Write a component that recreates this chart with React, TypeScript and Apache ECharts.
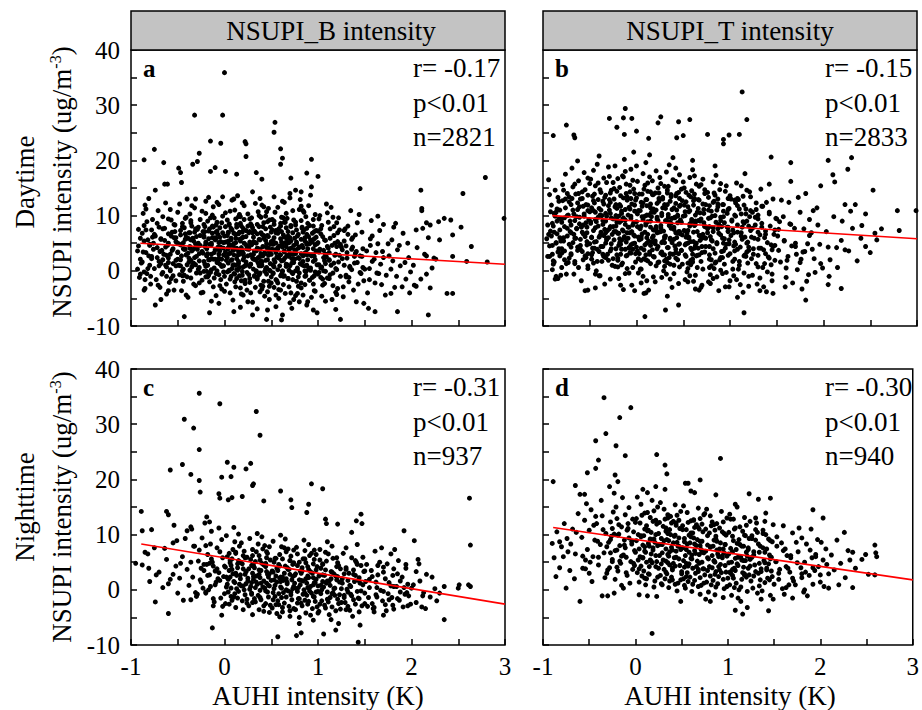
import React, { useEffect, useRef } from "react";
import * as echarts from "echarts";

const FONT = "'Liberation Serif', 'Times New Roman', serif";

// ---- Data (x = AUHI intensity K, y = NSUPI intensity), flat [x, y, x, y, ...] ----
const aOutliers = [0.0,35.9, -0.32,28.2, -0.02,28.2, 0.54,26.9, 0.53,25.1, 0.6,22.1, 0.62,20.4, 0.6,19.3, -0.15,23.5, -0.04,23.1, 0.22,23.4, 0.23,23.0, 0.23,20.7, -0.75,22.0, -0.86,20.1, -0.65,19.6, -0.27,21.3, -0.29,19.8, -0.34,19.3, 0.93,20.2, 2.79,16.9, 2.55,14.0, 2.1,14.6, 1.45,14.9, 2.11,11.3, 2.11,10.9, 2.99,9.5, 2.35,9.5, 2.42,9.2, 2.29,8.9, 2.16,8.7, 2.2,8.3, 2.53,7.9, 2.05,7.4, 1.83,8.6, 1.64,9.9, 2.3,5.6, 2.44,6.5, 2.64,4.4, 2.44,2.6, 2.59,1.7, 2.81,1.6, 2.16,2.7, 2.24,2.3, 2.16,-0.6, 2.38,-4.1, 2.44,-4.1, 2.18,-8.0, 1.85,-7.4, 1.61,-7.4, 1.54,-6.8, 1.49,-5.9, 1.98,-4.0, 2.03,-2.6, 1.78,-4.1, 1.24,-8.8, 1.19,-7.0, 0.99,-7.6, 0.95,-7.1, 0.8,-5.6, 0.72,-6.8, 0.61,-8.9, 0.62,-8.0, 0.45,-8.8, 0.46,-7.1, 0.3,-8.0, 0.17,-6.6, 0.1,-7.4, -0.16,-7.6, -0.06,-5.9, -0.43,-8.3, -0.74,-6.2, -0.68,-5.2, -0.86,-3.5, -0.54,-3.5, -0.41,-4.4, -0.81,13.1, -0.74,14.6, -0.85,11.9, -0.61,15.7, -0.64,15.7, -0.47,17.8, -0.46,16.0, -0.49,18.6, -0.4,13.0, -0.15,18.0, -0.1,18.7, 0.01,18.0, 0.13,17.5, 0.34,17.8, 0.4,16.6, 0.71,16.8, 0.88,17.7, 1.0,17.1, 0.93,15.2, 0.76,14.6, 0.82,14.3];
const aCore = [
-0.92,4.5, -0.9,2.1, -0.88,6.8, -0.93,0.3, -0.86,8.2, -0.84,3.3, -0.91,-1.2, -0.82,5.6, -0.8,1.0, -0.87,10.4, -0.78,7.4, -0.79,-2.4, -0.76,3.9, -0.83,-0.5, -0.9,5.9, -0.77,9.3, -0.81,2.7, -0.85,-3.2, -0.92,7.5, -0.75,0.4, -0.8,4.8, -0.88,1.6, -0.77,6.1, -0.84,11.2, -0.93,3.6, -0.79,-1.0, -0.76,5.0, -0.86,-0.2, -0.83,8.9, -0.78,2.2,
-0.72,4.2, -0.7,7.9, -0.68,1.3, -0.66,9.8, -0.73,-1.6, -0.64,5.5, -0.62,2.8, -0.69,-3.0, -0.6,6.7, -0.58,0.2, -0.71,10.9, -0.56,3.7, -0.54,8.4, -0.67,-0.6, -0.52,1.9, -0.63,12.3, -0.59,-2.1, -0.74,6.3, -0.51,5.1, -0.65,3.0, -0.57,9.2, -0.7,0.9, -0.55,-0.9, -0.61,4.6, -0.53,7.1, -0.68,5.8, -0.62,-4.2, -0.58,11.1, -0.72,2.4, -0.5,3.4, -0.66,7.6, -0.6,1.5, -0.54,6.0, -0.69,3.5, -0.52,-1.8,
-0.49,4.9, -0.47,2.0, -0.45,8.6, -0.43,-0.8, -0.41,6.1, -0.39,3.2, -0.37,10.3, -0.35,0.7, -0.33,5.4, -0.31,-2.7, -0.29,7.5, -0.27,1.8, -0.48,12.1, -0.46,-3.6, -0.44,4.0, -0.42,9.5, -0.4,1.1, -0.38,6.9, -0.36,-1.3, -0.34,3.8, -0.32,11.4, -0.3,2.6, -0.28,5.0, -0.26,-0.4, -0.47,6.5, -0.45,0.0, -0.43,7.8, -0.41,2.9, -0.39,-4.8, -0.37,4.4, -0.35,8.1, -0.33,1.4, -0.31,13.0, -0.29,3.9, -0.27,-2.2, -0.49,1.0, -0.42,5.7, -0.36,9.1, -0.3,6.2, -0.26,4.6, -0.44,-1.9, -0.38,2.3, -0.32,7.0, -0.28,0.3, -0.34,5.9,
-0.24,3.5, -0.22,6.3, -0.2,0.8, -0.18,9.0, -0.16,-2.0, -0.14,4.7, -0.12,11.6, -0.1,2.1, -0.08,7.2, -0.06,-0.7, -0.04,5.3, -0.02,13.4, -0.23,-3.9, -0.21,8.0, -0.19,2.7, -0.17,5.8, -0.15,-0.3, -0.13,10.1, -0.11,3.3, -0.09,-4.5, -0.07,6.6, -0.05,1.2, -0.03,8.7, -0.01,4.1, -0.24,10.8, -0.22,1.7, -0.2,4.9, -0.18,-1.1, -0.16,7.6, -0.14,2.2, -0.12,-2.9, -0.1,5.6, -0.08,12.4, -0.06,3.0, -0.04,-1.6, -0.02,6.9, -0.23,7.1, -0.19,-0.1, -0.15,9.6, -0.11,0.5, -0.07,4.3, -0.03,-3.3, -0.21,4.4, -0.17,2.0, -0.13,6.0, -0.09,8.3, -0.05,3.6, -0.01,0.9, -0.2,12.6, -0.14,-5.5, -0.08,1.5, -0.02,9.9, -0.12,7.9, -0.06,5.1, -0.18,3.1,
0.01,5.2, 0.03,2.4, 0.05,8.5, 0.07,-1.0, 0.09,4.6, 0.11,11.0, 0.13,0.2, 0.15,6.7, 0.17,-3.1, 0.19,3.7, 0.21,9.3, 0.23,1.6, 0.02,-2.4, 0.04,7.0, 0.06,3.2, 0.08,12.8, 0.1,-0.5, 0.12,5.9, 0.14,2.8, 0.16,10.2, 0.18,-4.2, 0.2,6.1, 0.22,0.9, 0.24,4.0, 0.01,10.5, 0.03,-0.2, 0.05,4.8, 0.07,7.7, 0.09,1.0, 0.11,-2.0, 0.13,8.4, 0.15,3.5, 0.17,5.4, 0.19,-0.8, 0.21,2.5, 0.23,7.3, 0.02,1.9, 0.06,-4.0, 0.1,6.8, 0.14,13.6, 0.18,8.1, 0.22,-1.7, 0.04,4.2, 0.08,2.0, 0.12,9.4, 0.16,0.6, 0.2,3.0, 0.24,-3.5, 0.03,6.4, 0.09,-5.3, 0.15,1.3, 0.21,11.8, 0.07,5.6, 0.13,-1.4, 0.19,7.0, 0.11,3.9, 0.05,0.0, 0.17,9.8, 0.23,4.7, 0.1,2.9,
0.26,4.4, 0.28,1.2, 0.3,7.8, 0.32,-0.9, 0.34,5.0, 0.36,10.7, 0.38,2.6, 0.4,-3.3, 0.42,6.4, 0.44,0.4, 0.46,8.9, 0.48,3.4, 0.27,-2.1, 0.29,9.6, 0.31,3.0, 0.33,12.2, 0.35,-1.5, 0.37,5.7, 0.39,1.8, 0.41,8.0, 0.43,-4.6, 0.45,4.2, 0.47,11.3, 0.49,0.0, 0.26,6.9, 0.28,-4.0, 0.3,2.3, 0.32,7.1, 0.34,-0.2, 0.36,4.0, 0.38,13.1, 0.4,1.0, 0.42,-1.9, 0.44,5.5, 0.46,2.0, 0.48,9.2, 0.27,0.8, 0.31,5.3, 0.35,8.4, 0.39,-2.6, 0.43,3.1, 0.47,6.2, 0.29,4.9, 0.33,-3.0, 0.37,10.0, 0.41,2.7, 0.45,-0.6, 0.49,4.8, 0.3,-5.7, 0.36,1.4, 0.42,11.6, 0.48,-2.8, 0.34,3.6, 0.4,6.6, 0.46,-3.8, 0.28,8.5, 0.38,-0.4, 0.44,9.9, 0.32,2.1, 0.26,-0.7,
0.51,3.9, 0.53,0.7, 0.55,6.9, 0.57,-2.2, 0.59,4.5, 0.61,9.7, 0.63,1.9, 0.65,-4.1, 0.67,5.8, 0.69,0.1, 0.71,8.2, 0.73,3.0, 0.52,-0.5, 0.54,10.6, 0.56,2.5, 0.58,7.6, 0.6,-3.5, 0.62,4.9, 0.64,12.4, 0.66,1.2, 0.68,-1.4, 0.7,6.0, 0.72,2.2, 0.74,-5.2, 0.51,7.4, 0.53,-3.0, 0.55,3.3, 0.57,11.5, 0.59,0.9, 0.61,5.2, 0.63,-1.0, 0.65,8.8, 0.67,2.8, 0.69,-2.9, 0.71,4.1, 0.73,10.9, 0.52,5.5, 0.56,-1.8, 0.6,8.6, 0.64,3.6, 0.68,7.1, 0.72,-0.3, 0.54,1.6, 0.58,-5.0, 0.62,0.0, 0.66,4.4, 0.7,13.2, 0.74,1.5, 0.53,9.0, 0.57,4.2, 0.61,-0.6, 0.65,2.4, 0.69,5.1, 0.73,-1.6, 0.55,-4.4, 0.63,6.5, 0.71,-4.0, 0.59,2.9, 0.67,9.5, 0.75,3.8,
0.76,3.1, 0.78,6.3, 0.8,-0.4, 0.82,9.1, 0.84,1.7, 0.86,-2.5, 0.88,4.8, 0.9,11.8, 0.92,0.5, 0.94,6.8, 0.96,-3.6, 0.98,3.5, 0.77,-1.9, 0.79,2.4, 0.81,12.9, 0.83,4.6, 0.85,7.4, 0.87,-0.9, 0.89,2.0, 0.91,8.2, 0.93,-4.8, 0.95,4.0, 0.97,10.2, 0.99,1.1, 0.76,8.8, 0.8,4.3, 0.84,-4.4, 0.88,0.9, 0.92,5.6, 0.96,2.6, 0.78,0.2, 0.82,-3.1, 0.86,5.4, 0.9,3.0, 0.94,-1.2, 0.98,7.3, 0.77,5.2, 0.81,1.3, 0.85,10.6, 0.89,-5.6, 0.93,2.9, 0.97,-0.2, 0.79,-2.8, 0.83,7.7, 0.87,3.3, 0.91,-1.7, 0.95,9.3, 0.99,4.9, 0.8,11.1, 0.86,0.0, 0.92,13.7, 0.96,5.8, 0.84,2.7, 0.88,6.6, 0.76,-4.5,
1.01,3.4, 1.03,0.5, 1.05,6.2, 1.07,-2.3, 1.09,2.5, 1.11,8.8, 1.13,-0.7, 1.15,4.6, 1.17,1.4, 1.19,-3.9, 1.21,6.9, 1.23,2.8, 1.02,10.0, 1.04,-4.6, 1.06,3.7, 1.08,5.5, 1.1,-1.3, 1.12,2.0, 1.14,11.5, 1.16,-2.7, 1.18,5.0, 1.2,0.2, 1.22,9.6, 1.24,-1.0, 1.03,7.6, 1.07,1.8, 1.11,4.1, 1.15,-5.2, 1.19,3.0, 1.23,7.4, 1.05,-1.5, 1.09,12.1, 1.13,5.9, 1.17,8.0, 1.21,-3.2, 1.01,-0.3, 1.25,4.3, 1.14,1.0, 1.06,0.0, 1.2,4.4,
1.26,2.2, 1.28,5.4, 1.3,-1.1, 1.32,8.1, 1.34,0.8, 1.36,3.9, 1.38,-3.5, 1.4,6.5, 1.42,1.5, 1.44,10.2, 1.46,-0.5, 1.48,4.0, 1.27,-4.7, 1.31,3.3, 1.35,10.9, 1.39,2.6, 1.43,-2.4, 1.47,7.0, 1.29,7.6, 1.33,-2.0, 1.37,6.0, 1.41,-5.6, 1.45,2.7, 1.49,-1.8, 1.3,4.5, 1.36,0.2, 1.42,8.7, 1.28,1.0, 1.4,3.2, 1.48,0.6,
1.52,3.6, 1.55,0.4, 1.58,6.3, 1.61,-2.2, 1.64,4.9, 1.67,1.2, 1.7,8.4, 1.73,-0.8, 1.76,2.7, 1.79,5.6, 1.82,-3.0, 1.85,3.8, 1.88,0.9, 1.91,6.8, 1.94,-1.5, 1.97,2.4, 1.53,-4.0, 1.57,9.1, 1.6,2.1, 1.63,-0.4, 1.66,7.3, 1.69,3.5, 1.72,-4.4, 1.75,4.9, 1.78,0.3, 1.81,7.9, 1.84,-1.0, 1.87,4.6, 1.9,-2.9, 1.93,1.5, 1.96,5.0, 1.99,-0.2, 1.56,5.8, 1.68,-2.5, 1.8,1.8,
2.02,1.0, 2.06,4.2, 2.1,-1.5, 2.14,3.0, 2.18,6.0, 2.22,0.5, 2.05,-2.8, 2.26,2.1, 2.12,7.7, 2.2,-3.1];
const aDense = [
-0.71,-2.6, -0.33,-2.4, -0.05,-2.7, 0.22,-2.3, 0.41,-2.8, 0.63,-2.5, 0.82,-2.2, 1.05,-2.6, 1.27,-2.9, 0.12,-2.9, 0.95,-2.4, 0.5,-2.2,
-0.85,-1.6, -0.57,-1.4, -0.24,-1.7, -0.11,-1.3, 0.06,-1.5, 0.18,-1.8, 0.35,-1.2, 0.55,-1.6, 0.68,-1.4, 0.79,-1.1, 0.91,-1.7, 1.12,-1.4, 1.33,-1.2, 1.55,-1.6, -0.4,-1.1, 0.27,-1.4, 0.47,-1.9,
-0.9,-0.6, -0.66,-0.3, -0.48,-0.7, -0.3,-0.4, -0.17,-0.8, -0.01,-0.2, 0.11,-0.6, 0.24,-0.3, 0.37,-0.7, 0.52,-0.4, 0.6,-0.9, 0.73,-0.5, 0.87,-0.2, 1.0,-0.6, 1.16,-0.4, 1.3,-0.8, 1.45,-0.3, 1.65,-0.5, 0.43,-0.1, -0.09,-0.5, 0.96,-0.9,
-0.82,0.4, -0.62,0.7, -0.44,0.3, -0.27,0.6, -0.14,0.2, -0.03,0.8, 0.08,0.4, 0.2,0.7, 0.31,0.3, 0.45,0.6, 0.57,0.2, 0.66,0.8, 0.78,0.5, 0.9,0.3, 1.04,0.7, 1.19,0.4, 1.34,0.6, 1.5,0.3, 0.14,0.1, 0.39,0.9, 0.85,0.9, -0.52,0.9,
-0.89,1.4, -0.7,1.7, -0.55,1.3, -0.38,1.6, -0.21,1.2, -0.07,1.8, 0.04,1.4, 0.15,1.7, 0.28,1.2, 0.4,1.6, 0.49,1.3, 0.61,1.8, 0.72,1.4, 0.83,1.1, 0.95,1.7, 1.08,1.3, 1.22,1.6, 1.39,1.4, 1.58,1.7, 0.34,1.9, -0.31,1.1, 0.1,1.1, 0.67,1.1,
-0.78,2.6, -0.6,2.3, -0.46,2.7, -0.32,2.4, -0.19,2.8, -0.06,2.3, 0.02,2.6, 0.13,2.2, 0.25,2.7, 0.36,2.4, 0.47,2.8, 0.58,2.3, 0.69,2.6, 0.8,2.2, 0.93,2.7, 1.06,2.4, 1.18,2.8, 1.31,2.3, 1.47,2.6, 1.7,2.4, -0.12,2.1, 0.53,2.0, 0.88,2.9,
-0.87,3.4, -0.67,3.7, -0.5,3.3, -0.35,3.6, -0.23,3.2, -0.1,3.8, 0.01,3.4, 0.09,3.7, 0.2,3.2, 0.32,3.6, 0.43,3.3, 0.54,3.8, 0.64,3.4, 0.76,3.7, 0.86,3.2, 0.99,3.6, 1.12,3.3, 1.26,3.8, 1.41,3.5, 1.62,3.3, 0.26,3.9, 0.7,3.1, -0.42,3.9,
-0.8,4.6, -0.63,4.3, -0.47,4.7, -0.29,4.4, -0.16,4.8, -0.04,4.3, 0.07,4.6, 0.18,4.2, 0.29,4.7, 0.41,4.4, 0.52,4.8, 0.62,4.3, 0.74,4.6, 0.84,4.2, 0.97,4.7, 1.1,4.4, 1.24,4.8, 1.37,4.3, 1.56,4.6, 0.35,4.1, -0.37,4.1, 0.91,4.9,
-0.86,5.4, -0.68,5.7, -0.52,5.3, -0.36,5.6, -0.2,5.2, -0.09,5.8, 0.04,5.4, 0.16,5.7, 0.27,5.2, 0.38,5.6, 0.5,5.3, 0.6,5.8, 0.71,5.4, 0.82,5.7, 0.94,5.2, 1.07,5.6, 1.21,5.3, 1.36,5.7, 0.12,5.1, 0.65,5.1,
-0.75,6.6, -0.57,6.3, -0.42,6.7, -0.26,6.4, -0.13,6.8, 0.0,6.3, 0.12,6.6, 0.23,6.2, 0.35,6.7, 0.46,6.4, 0.57,6.8, 0.68,6.3, 0.79,6.6, 0.9,6.2, 1.03,6.7, 1.17,6.4, 1.32,6.6, 0.3,6.9, -0.05,6.1,
-0.84,7.4, -0.64,7.7, -0.47,7.3, -0.31,7.6, -0.17,7.2, -0.05,7.8, 0.08,7.4, 0.2,7.7, 0.32,7.2, 0.44,7.6, 0.55,7.3, 0.66,7.8, 0.77,7.4, 0.88,7.7, 1.0,7.2, 1.13,7.6, 1.28,7.3,
-0.72,8.6, -0.53,8.3, -0.36,8.7, -0.22,8.4, -0.08,8.8, 0.05,8.3, 0.17,8.6, 0.29,8.2, 0.42,8.7, 0.53,8.4, 0.64,8.8, 0.76,8.3, 0.89,8.6, 1.04,8.2, 1.2,8.7,
-0.6,9.4, -0.41,9.7, -0.26,9.3, -0.11,9.6, 0.03,9.2, 0.15,9.8, 0.27,9.4, 0.39,9.7, 0.51,9.3, 0.63,9.6, 0.74,9.2, 0.87,9.8, 1.01,9.4, 1.16,9.7,
-0.5,10.6, -0.2,10.4, 0.06,10.8, 0.25,10.3, 0.45,10.7, 0.66,10.4, 0.84,10.9, 1.1,10.5,
-0.35,11.8, -0.06,12.0, 0.19,12.3, 0.4,11.9, 0.62,12.6, 0.82,11.7, 0.53,13.4, 0.1,13.0, -0.17,13.3, 0.3,14.3, 0.7,14.0,
-0.6,-3.6, -0.25,-4.0, 0.0,-3.7, 0.2,-4.4, 0.38,-3.8, 0.58,-3.4, 0.78,-4.1, 0.97,-3.7, 1.2,-4.3, 0.48,-5.2, 0.7,-5.8, 0.25,-5.6, 0.88,-6.2, 1.08,-5.5, 0.55,-6.5, 0.35,-6.9];
const aDense2 = [
-0.62,-1.0, -0.45,-0.9, -0.2,-1.1, 0.0,-1.0, 0.16,-0.9, 0.32,-1.0, 0.5,-1.1, 0.64,-0.9, 0.86,-1.0, 1.03,-1.2,
-0.58,0.0, -0.37,0.1, -0.22,-0.1, -0.08,0.0, 0.05,0.1, 0.19,-0.1, 0.34,0.0, 0.48,0.1, 0.62,-0.1, 0.76,0.0, 0.92,0.1, 1.08,-0.1,
-0.63,1.0, -0.47,0.9, -0.34,1.1, -0.18,1.0, -0.02,0.9, 0.12,1.0, 0.23,1.1, 0.37,0.9, 0.52,1.0, 0.7,0.9, 0.88,1.0, 1.01,1.1,
-0.66,2.0, -0.5,2.1, -0.36,1.9, -0.16,2.0, -0.03,2.1, 0.07,1.9, 0.2,2.0, 0.31,2.1, 0.44,1.9, 0.63,2.0, 0.75,2.1, 0.97,2.0, 1.12,1.9,
-0.58,3.0, -0.41,2.9, -0.27,3.1, -0.14,3.0, -0.01,2.9, 0.05,3.1, 0.16,3.0, 0.28,2.9, 0.39,3.1, 0.5,3.0, 0.6,2.9, 0.74,3.0, 0.82,3.1, 0.95,2.9, 1.08,3.0,
-0.55,4.0, -0.43,3.9, -0.32,4.1, -0.19,4.0, -0.07,3.9, 0.04,4.0, 0.13,4.1, 0.24,4.0, 0.38,3.9, 0.47,4.1, 0.57,4.0, 0.69,3.9, 0.79,4.1, 0.89,4.0, 1.02,3.9,
-0.6,5.0, -0.44,5.1, -0.31,4.9, -0.14,5.0, -0.01,5.1, 0.1,4.9, 0.21,5.0, 0.33,5.1, 0.45,4.9, 0.55,5.0, 0.67,5.1, 0.77,4.9, 0.88,5.0, 1.0,5.1,
-0.52,6.0, -0.39,5.9, -0.22,6.1, -0.1,6.0, 0.07,5.9, 0.19,6.0, 0.31,6.1, 0.42,5.9, 0.53,6.0, 0.64,6.1, 0.75,5.9, 0.86,6.0, 0.98,6.1,
-0.56,7.0, -0.37,6.9, -0.21,7.1, -0.09,7.0, 0.04,6.9, 0.16,7.0, 0.27,7.1, 0.39,6.9, 0.5,7.0, 0.61,7.1, 0.73,6.9, 0.84,7.0, 0.96,7.1,
-0.45,8.0, -0.28,7.9, -0.13,8.1, 0.01,8.0, 0.13,7.9, 0.25,8.1, 0.37,8.0, 0.49,7.9, 0.6,8.1, 0.71,8.0, 0.83,7.9, 0.95,8.1];

const bOutliers = [1.13,32.4, 1.18,27.4, -0.12,29.4, -0.29,27.6, -0.14,27.7, -0.05,27.6, 0.26,27.9, 0.23,26.8, 0.45,27.0, 0.57,27.4, -0.75,26.4, -0.89,24.5, -0.67,24.6, -0.66,24.1, -0.21,26.0, -0.13,24.7, 0.0,25.3, 0.13,24.0, 0.43,24.1, 0.5,24.5, 0.76,24.7, 0.93,23.8, 0.99,24.6, 1.1,24.7, 0.93,23.0, 1.44,20.6, 1.65,19.6, 2.05,20.0, 2.3,20.5, 2.26,18.4, 2.1,17.4, 2.12,16.1, 2.53,14.6, 1.97,15.4, 2.34,12.0, 2.79,10.9, 2.99,10.9, 2.29,10.8, 2.62,7.6, 2.81,7.3, 2.41,8.2, 2.2,9.0, 2.57,5.6, 2.45,4.4, 2.23,3.8, 2.05,4.3, 2.05,-2.5, 2.19,-3.2, 1.81,-5.3, 1.46,-4.1, 1.39,-3.8, 1.32,-3.6, 1.15,-7.6, 1.08,-4.8, 0.99,-2.9, 0.45,-6.2, 0.31,-7.1, 0.09,-8.3, 0.1,-4.0, -0.02,-3.6, -0.17,-2.6, -0.55,-3.6, -0.52,-3.5, 0.67,-3.5, 0.69,-3.0, 0.79,-2.3, -0.87,-1.5, -0.84,-1.4, -0.89,1.2, -0.44,-0.6];
const bCore = [
-0.95,8.3, -0.93,4.5, -0.91,11.9, -0.89,1.8, -0.87,14.6, -0.85,6.7, -0.83,9.4, -0.81,-0.8, -0.79,12.7, -0.77,3.6, -0.94,16.5, -0.92,7.2, -0.9,0.2, -0.88,10.4, -0.86,5.1, -0.84,13.3, -0.82,2.7, -0.8,8.8, -0.78,6.0, -0.76,17.5, -0.95,2.6, -0.91,6.3, -0.87,9.9, -0.83,4.0, -0.79,15.6, -0.75,1.3, -0.93,13.8, -0.89,8.1, -0.85,11.2, -0.81,5.4, -0.77,9.6, -0.96,5.8, -0.8,3.2, -0.86,-1.0, -0.92,10.7,
-0.74,7.7, -0.72,12.5, -0.7,3.1, -0.68,15.2, -0.66,5.9, -0.64,9.8, -0.62,0.6, -0.6,13.0, -0.58,7.0, -0.56,17.8, -0.54,2.4, -0.52,10.9, -0.73,1.5, -0.71,9.0, -0.69,18.6, -0.67,6.6, -0.65,13.9, -0.63,4.3, -0.61,11.6, -0.59,-1.8, -0.57,8.3, -0.55,14.7, -0.53,5.3, -0.51,9.3, -0.74,14.0, -0.7,6.9, -0.66,1.7, -0.62,16.3, -0.58,3.5, -0.54,12.0, -0.72,4.8, -0.68,11.0, -0.64,7.6, -0.6,4.6, -0.56,10.3, -0.52,0.9, -0.73,10.1, -0.67,-0.6, -0.61,8.5, -0.55,6.2, -0.5,15.8, -0.63,19.9, -0.57,2.0, -0.69,13.1, -0.53,7.9,
-0.49,8.6, -0.47,4.1, -0.45,12.3, -0.43,0.0, -0.41,15.9, -0.39,6.4, -0.37,10.0, -0.35,2.6, -0.33,13.7, -0.31,7.3, -0.29,17.1, -0.27,4.9, -0.48,11.4, -0.46,1.4, -0.44,7.8, -0.42,19.3, -0.4,3.5, -0.38,14.2, -0.36,9.1, -0.34,-2.4, -0.32,5.6, -0.3,11.8, -0.28,8.0, -0.26,1.0, -0.49,16.6, -0.45,5.2, -0.41,9.7, -0.37,1.7, -0.33,6.9, -0.29,12.9, -0.25,9.4, -0.47,13.5, -0.43,8.9, -0.39,-0.9, -0.35,16.8, -0.31,3.0, -0.27,14.6, -0.48,2.9, -0.44,10.6, -0.4,6.1, -0.36,4.4, -0.32,9.9, -0.28,-1.5, -0.46,18.2, -0.42,3.9, -0.38,11.0, -0.34,7.5, -0.3,1.9, -0.26,6.6, -0.44,-3.1, -0.36,12.6, -0.28,10.4, -0.4,20.8, -0.32,16.0, -0.48,6.0,
-0.24,7.1, -0.22,12.0, -0.2,2.3, -0.18,15.1, -0.16,5.5, -0.14,9.6, -0.12,-0.5, -0.1,13.4, -0.08,7.9, -0.06,18.4, -0.04,3.9, -0.02,10.8, -0.23,0.8, -0.21,9.2, -0.19,4.6, -0.17,11.7, -0.15,17.2, -0.13,6.2, -0.11,2.7, -0.09,10.1, -0.07,14.3, -0.05,-2.6, -0.03,6.5, -0.01,12.8, -0.24,14.9, -0.2,6.8, -0.16,1.1, -0.12,8.4, -0.08,4.2, -0.04,16.4, -0.22,4.0, -0.18,8.8, -0.14,13.2, -0.1,0.4, -0.06,9.5, -0.02,5.0, -0.23,19.0, -0.19,-1.4, -0.15,7.4, -0.11,15.7, -0.07,3.3, -0.03,8.7, -0.21,11.3, -0.17,3.0, -0.13,20.2, -0.09,5.9, -0.05,12.1, -0.01,1.6, -0.2,16.7, -0.14,-3.4, -0.08,11.5, -0.02,14.0, -0.18,5.8, -0.1,6.9, -0.04,0.6, -0.16,10.4, -0.06,4.7, -0.12,18.0, -0.22,8.1, -0.03,21.5,
0.01,8.0, 0.03,3.1, 0.05,12.4, 0.07,-1.0, 0.09,15.5, 0.11,6.0, 0.13,10.1, 0.15,1.3, 0.17,13.8, 0.19,7.4, 0.21,18.1, 0.23,4.4, 0.02,10.9, 0.04,0.3, 0.06,6.7, 0.08,14.8, 0.1,2.9, 0.12,8.9, 0.14,17.0, 0.16,5.2, 0.18,11.2, 0.2,-2.0, 0.22,9.7, 0.24,13.1, 0.01,16.2, 0.03,5.6, 0.05,1.9, 0.07,9.3, 0.09,4.7, 0.11,12.9, 0.13,-3.5, 0.15,7.9, 0.17,3.8, 0.19,10.6, 0.21,0.9, 0.23,15.0, 0.02,-0.4, 0.06,11.7, 0.1,19.6, 0.14,3.4, 0.18,6.3, 0.22,12.2, 0.04,7.6, 0.08,2.2, 0.12,14.4, 0.16,9.8, 0.2,4.9, 0.24,7.0, 0.03,13.9, 0.07,17.6, 0.11,-1.8, 0.15,11.4, 0.19,2.5, 0.23,9.1, 0.05,6.2, 0.09,9.9, 0.13,5.4, 0.17,16.3, 0.21,7.5, 0.01,3.6, 0.14,21.0, 0.08,-4.1, 0.2,14.1, 0.24,1.6, 0.1,8.3,
0.26,7.8, 0.28,2.9, 0.3,12.0, 0.32,-0.6, 0.34,15.3, 0.36,5.7, 0.38,9.5, 0.4,1.0, 0.42,13.6, 0.44,6.8, 0.46,17.4, 0.48,3.7, 0.27,10.4, 0.29,0.0, 0.31,6.3, 0.33,14.1, 0.35,2.4, 0.37,8.6, 0.39,16.5, 0.41,4.5, 0.43,11.0, 0.45,-2.3, 0.47,9.2, 0.49,12.7, 0.26,15.8, 0.28,5.3, 0.3,1.8, 0.32,9.0, 0.34,4.2, 0.36,12.6, 0.38,-3.0, 0.4,7.5, 0.42,3.3, 0.44,10.1, 0.46,0.7, 0.48,14.8, 0.27,-1.2, 0.31,11.3, 0.35,19.2, 0.39,3.0, 0.43,6.0, 0.47,11.9, 0.29,7.2, 0.33,1.5, 0.37,13.8, 0.41,9.6, 0.45,4.8, 0.49,6.5, 0.28,13.3, 0.32,17.9, 0.36,-1.5, 0.4,11.4, 0.44,2.0, 0.48,8.8, 0.3,5.9, 0.34,9.7, 0.38,5.1, 0.42,16.2, 0.46,7.1, 0.26,3.2, 0.39,20.5, 0.33,-4.6, 0.45,14.2, 0.49,1.2, 0.35,8.2,
0.51,7.3, 0.53,2.6, 0.55,11.6, 0.57,-0.9, 0.59,14.5, 0.61,5.3, 0.63,9.0, 0.65,0.6, 0.67,12.8, 0.69,6.4, 0.71,16.6, 0.73,3.4, 0.52,10.0, 0.54,-0.2, 0.56,5.9, 0.58,13.4, 0.6,2.1, 0.62,8.2, 0.64,15.7, 0.66,4.1, 0.68,10.5, 0.7,-2.6, 0.72,8.7, 0.74,12.0, 0.51,15.0, 0.53,4.9, 0.55,1.4, 0.57,8.5, 0.59,3.8, 0.61,11.9, 0.63,-3.3, 0.65,7.1, 0.67,2.9, 0.69,9.4, 0.71,0.3, 0.73,14.0, 0.52,-1.6, 0.56,10.7, 0.6,18.3, 0.64,2.7, 0.68,5.5, 0.72,11.1, 0.54,6.8, 0.58,1.1, 0.62,13.1, 0.66,9.1, 0.7,4.4, 0.74,5.9, 0.53,12.5, 0.57,16.9, 0.61,-1.9, 0.65,10.6, 0.69,1.7, 0.73,8.0, 0.55,5.0, 0.59,8.9, 0.63,4.6, 0.67,15.3, 0.71,6.6, 0.6,20.0,
0.76,6.9, 0.78,2.1, 0.8,10.8, 0.82,-1.4, 0.84,13.7, 0.86,4.9, 0.88,8.4, 0.9,0.1, 0.92,12.0, 0.94,5.8, 0.96,15.4, 0.98,2.8, 0.77,9.5, 0.79,-0.7, 0.81,5.4, 0.83,12.6, 0.85,1.6, 0.87,7.6, 0.89,14.7, 0.91,3.5, 0.93,9.8, 0.95,-2.9, 0.97,7.9, 0.99,11.3, 0.76,14.2, 0.78,4.4, 0.8,0.9, 0.82,7.8, 0.84,3.2, 0.86,11.0, 0.88,-3.6, 0.9,6.5, 0.92,2.4, 0.94,8.7, 0.96,-0.3, 0.98,13.1, 0.77,-2.0, 0.81,9.9, 0.85,17.3, 0.89,2.0, 0.93,5.0, 0.97,10.4, 0.79,6.2, 0.83,0.4, 0.87,12.1, 0.91,8.0, 0.95,4.1, 0.99,5.6, 0.78,11.8, 0.82,16.1, 0.86,-1.1, 0.9,9.7, 0.94,1.2, 0.98,7.1, 0.84,19.0,
1.01,6.4, 1.03,1.7, 1.05,10.1, 1.07,-1.6, 1.09,12.9, 1.11,4.3, 1.13,7.9, 1.15,-0.4, 1.17,11.2, 1.19,5.2, 1.21,14.3, 1.23,2.2, 1.02,9.0, 1.04,-0.9, 1.06,4.8, 1.08,11.8, 1.1,1.0, 1.12,6.9, 1.14,13.5, 1.16,2.9, 1.18,9.0, 1.2,-2.8, 1.22,7.3, 1.24,10.6, 1.01,13.0, 1.05,3.6, 1.09,0.3, 1.13,5.7, 1.17,2.6, 1.21,9.8, 1.25,4.0, 1.03,7.4, 1.07,15.9, 1.11,-2.5, 1.15,8.6, 1.19,1.4, 1.23,6.1, 1.04,4.5, 1.08,7.0, 1.12,10.3, 1.16,17.6, 1.2,3.7, 1.24,-0.8, 1.06,12.3, 1.14,-3.9,
1.26,5.9, 1.28,1.3, 1.3,9.4, 1.32,-1.3, 1.34,11.7, 1.36,3.8, 1.38,7.2, 1.4,-0.2, 1.42,10.3, 1.44,4.7, 1.46,13.0, 1.48,1.9, 1.27,8.3, 1.29,-2.4, 1.31,4.1, 1.33,14.8, 1.35,0.6, 1.37,6.0, 1.39,12.4, 1.41,2.5, 1.43,8.1, 1.45,-1.8, 1.47,6.6, 1.49,9.5, 1.28,11.1, 1.32,6.5, 1.36,-2.9, 1.4,5.1, 1.44,1.1, 1.48,7.4, 1.3,2.8, 1.34,7.9, 1.38,3.1, 1.42,15.7, 1.46,4.4,
1.51,6.3, 1.54,1.6, 1.57,9.8, 1.6,-1.2, 1.63,12.4, 1.66,4.5, 1.69,7.7, 1.72,0.2, 1.75,10.6, 1.78,3.4, 1.81,14.0, 1.84,-0.7, 1.87,6.9, 1.9,2.2, 1.93,11.4, 1.96,4.8, 1.99,0.5, 1.52,3.7, 1.55,12.8, 1.58,5.5, 1.61,1.9, 1.64,8.5, 1.67,-2.2, 1.7,5.0, 1.73,13.3, 1.76,2.1, 1.79,7.6, 1.82,-1.9, 1.85,9.3, 1.88,3.9, 1.91,-0.3, 1.94,8.3, 1.97,1.3, 1.53,8.9, 1.59,-2.9, 1.65,16.2, 1.71,3.0, 1.77,-3.3, 1.83,4.9, 1.89,10.9,
2.03,7.1, 2.07,2.0, 2.11,9.8, 2.15,0.6, 2.19,5.5, 2.23,12.0, 2.27,3.6, 2.31,7.7, 2.36,1.8, 2.4,5.9, 2.45,10.3, 2.5,3.3, 2.06,-1.0, 2.14,4.2, 2.55,6.8];
const bDense = [
-0.8,0.6, -0.52,0.4, -0.2,0.7, 0.05,0.3, 0.3,0.8, 0.55,0.4, 0.78,0.6, 1.03,0.3, 1.3,0.7, 1.6,0.5,
-0.88,1.6, -0.66,1.3, -0.42,1.7, -0.15,1.4, 0.12,1.8, 0.36,1.2, 0.6,1.6, 0.84,1.4, 1.1,1.7, 1.37,1.3, 1.75,1.5, 0.23,1.5,
-0.93,2.6, -0.72,2.3, -0.55,2.7, -0.33,2.4, -0.1,2.8, 0.02,2.2, 0.18,2.6, 0.42,2.3, 0.65,2.8, 0.9,2.4, 1.15,2.7, 1.42,2.3, 1.62,2.6, -0.25,2.2, 0.52,2.9,
-0.84,3.4, -0.63,3.7, -0.47,3.3, -0.28,3.6, -0.06,3.2, 0.08,3.8, 0.27,3.4, 0.48,3.7, 0.7,3.3, 0.93,3.6, 1.18,3.4, 1.45,3.8, 1.8,3.5, 0.36,3.1, -0.16,3.9,
-0.9,4.6, -0.7,4.3, -0.53,4.7, -0.38,4.4, -0.17,4.8, 0.0,4.3, 0.15,4.6, 0.33,4.2, 0.52,4.7, 0.74,4.4, 0.96,4.8, 1.2,4.3, 1.48,4.6, 1.7,4.4, 0.62,4.1, -0.08,4.1,
-0.78,5.4, -0.6,5.7, -0.43,5.3, -0.24,5.6, -0.11,5.2, 0.05,5.8, 0.2,5.4, 0.4,5.7, 0.58,5.3, 0.8,5.6, 1.05,5.2, 1.3,5.7, 1.58,5.4, 0.3,5.1, 0.7,5.9, -0.32,5.9,
-0.94,6.6, -0.74,6.3, -0.57,6.7, -0.35,6.4, -0.19,6.8, -0.02,6.3, 0.12,6.6, 0.3,6.2, 0.47,6.7, 0.67,6.4, 0.88,6.8, 1.12,6.3, 1.38,6.6, 1.85,6.4, 0.22,6.9, 0.56,6.1,
-0.82,7.4, -0.64,7.7, -0.46,7.3, -0.29,7.6, -0.14,7.2, 0.03,7.8, 0.18,7.4, 0.37,7.7, 0.55,7.3, 0.76,7.6, 0.98,7.2, 1.24,7.7, 1.52,7.5, 0.45,7.1, -0.05,7.1,
-0.9,8.6, -0.7,8.3, -0.54,8.7, -0.36,8.4, -0.21,8.8, -0.04,8.3, 0.1,8.6, 0.26,8.2, 0.44,8.7, 0.63,8.4, 0.85,8.8, 1.08,8.3, 1.34,8.6, 1.65,8.4, 0.35,8.9, 0.73,8.1,
-0.8,9.4, -0.61,9.7, -0.44,9.3, -0.27,9.6, -0.12,9.2, 0.06,9.8, 0.22,9.4, 0.41,9.7, 0.59,9.3, 0.79,9.6, 1.02,9.2, 1.27,9.7, 1.5,9.4, -0.19,9.9, 0.5,9.9,
-0.86,10.6, -0.67,10.3, -0.5,10.7, -0.33,10.4, -0.16,10.8, 0.01,10.3, 0.16,10.6, 0.34,10.2, 0.52,10.7, 0.72,10.4, 0.93,10.8, 1.17,10.3, 1.42,10.6,
-0.76,11.4, -0.57,11.7, -0.4,11.3, -0.23,11.6, -0.07,11.2, 0.11,11.8, 0.28,11.4, 0.46,11.7, 0.66,11.3, 0.87,11.6, 1.1,11.2, 1.35,11.7,
-0.83,12.6, -0.63,12.3, -0.46,12.7, -0.28,12.4, -0.1,12.8, 0.07,12.3, 0.24,12.6, 0.42,12.2, 0.61,12.7, 0.82,12.4, 1.05,12.8, 1.28,12.3,
-0.72,13.4, -0.52,13.7, -0.34,13.3, -0.17,13.6, 0.0,13.2, 0.18,13.8, 0.37,13.4, 0.56,13.7, 0.77,13.3, 1.0,13.6, 1.22,13.4,
-0.78,14.6, -0.58,14.3, -0.39,14.7, -0.21,14.4, -0.03,14.8, 0.15,14.3, 0.33,14.6, 0.53,14.2, 0.73,14.7, 0.95,14.4, 1.18,14.6,
-0.66,15.7, -0.44,15.4, -0.25,16.0, -0.07,15.5, 0.12,15.9, 0.3,15.3, 0.5,16.1, 0.69,15.6, 0.9,15.8, 1.12,15.4, -0.52,16.8, -0.14,17.0, 0.25,16.9, 0.62,17.2, 0.0,19.0, 0.42,18.6, -0.3,18.8,
-0.75,-0.6, -0.4,-0.9, -0.08,-0.4, 0.18,-1.1, 0.4,-0.5, 0.63,-0.8, 0.92,-0.5, 1.2,-1.0, 1.45,-0.6, 0.05,-2.2, 0.55,-2.0, 1.0,-1.8];
const bDense2 = [
-0.77,2.0, -0.48,2.1, -0.2,1.9, 0.1,2.0, 0.32,2.1, 0.58,1.9, 0.8,2.0, 1.05,2.1,
-0.9,3.0, -0.7,2.9, -0.52,3.1, -0.36,3.0, -0.21,2.9, -0.01,3.1, 0.14,3.0, 0.3,2.9, 0.45,3.1, 0.6,3.0, 0.78,2.9, 1.0,3.1, 1.25,3.0,
-0.8,4.0, -0.6,3.9, -0.45,4.1, -0.27,4.0, -0.12,3.9, 0.05,4.1, 0.22,4.0, 0.42,3.9, 0.58,4.1, 0.82,4.0, 1.08,3.9, 1.33,4.1,
-0.86,5.0, -0.68,5.1, -0.5,4.9, -0.33,5.0, -0.18,5.1, -0.04,4.9, 0.11,5.0, 0.27,5.1, 0.46,4.9, 0.64,5.0, 0.86,5.1, 0.99,4.9, 1.18,5.0,
-0.82,6.0, -0.65,5.9, -0.48,6.1, -0.3,6.0, -0.13,5.9, 0.02,6.1, 0.17,6.0, 0.36,5.9, 0.53,6.1, 0.73,6.0, 0.92,5.9, 1.16,6.1,
-0.88,7.0, -0.71,7.1, -0.53,6.9, -0.38,7.0, -0.22,7.1, -0.07,6.9, 0.09,7.0, 0.26,7.1, 0.42,6.9, 0.61,7.0, 0.82,7.1, 1.04,6.9, 1.3,7.0,
-0.77,8.0, -0.59,7.9, -0.41,8.1, -0.25,8.0, -0.09,7.9, 0.05,8.1, 0.21,8.0, 0.4,7.9, 0.57,8.1, 0.78,8.0, 0.98,7.9, 1.2,8.1,
-0.85,9.0, -0.66,9.1, -0.49,8.9, -0.33,9.0, -0.16,9.1, 0.0,8.9, 0.15,9.0, 0.31,9.1, 0.47,8.9, 0.68,9.0, 0.9,9.1, 1.14,8.9,
-0.74,10.0, -0.56,9.9, -0.39,10.1, -0.22,10.0, -0.06,9.9, 0.11,10.1, 0.27,10.0, 0.44,9.9, 0.63,10.1, 0.84,10.0, 1.06,9.9, 1.3,10.1,
-0.82,11.0, -0.63,11.1, -0.46,10.9, -0.29,11.0, -0.12,11.1, 0.04,10.9, 0.21,11.0, 0.38,11.1, 0.57,10.9, 0.77,11.0, 0.98,11.1, 1.22,10.9,
-0.7,12.0, -0.52,11.9, -0.35,12.1, -0.18,12.0, -0.02,11.9, 0.15,12.1, 0.33,12.0, 0.51,11.9, 0.71,12.1, 0.93,12.0, 1.15,11.9,
-0.76,13.0, -0.58,13.1, -0.41,12.9, -0.24,13.0, -0.06,13.1, 0.1,12.9, 0.28,13.0, 0.46,13.1, 0.66,12.9, 0.87,13.0, 1.08,13.1,
-0.62,14.0, -0.45,13.9, -0.28,14.1, -0.11,14.0, 0.06,13.9, 0.24,14.1, 0.43,14.0, 0.62,13.9, 0.83,14.1];

const cOutliers = [-0.27,35.6, -0.05,33.7, 0.34,32.3, 0.38,28.0, -0.43,30.9, -0.33,29.3, -0.27,25.4, -0.45,22.7, -0.36,20.9, -0.27,19.8, -0.26,17.7, -0.58,21.7, 0.03,23.1, 0.1,22.2, 0.23,21.9, 0.28,22.9, 0.07,20.5, -0.03,20.4, 0.31,19.2, 0.3,18.9, -0.06,17.4, -0.05,16.6, 0.04,16.3, 0.08,16.7, 0.19,16.9, 0.42,16.1, 0.6,17.9, 0.71,16.3, 0.72,14.9, 0.9,15.5, 0.88,14.0, 0.93,19.2, 1.05,18.3, -0.89,14.2, -0.88,10.7, -0.78,10.9, -0.6,13.6, -0.62,14.2, -0.54,11.7, -0.51,8.9, -0.4,10.7, -0.36,11.4, -0.33,7.9, -0.19,13.2, -0.16,12.3, 2.62,16.6, 2.63,8.1, 1.92,10.7, 2.03,8.9, 1.46,13.7, 1.41,12.5, 1.47,12.0, 1.21,11.9, 1.08,12.8, 1.09,12.0, 1.36,10.4, -0.64,7.5, -0.82,6.5, -0.95,4.8, -0.81,3.9, -0.73,2.7, -0.74,-2.2, -0.6,-4.3, -0.36,-1.8, -0.3,-1.2, -0.13,-6.9, -0.03,-4.6, 0.57,-8.5, 0.77,-8.3, 0.82,-7.8, 1.06,-8.0, 1.19,-7.3, 1.43,-9.5, 1.22,-6.1, 1.45,-6.4, 2.35,-5.4, 2.51,0.9, 2.61,0.9, 2.63,0.6, 2.5,0.3, 2.35,0.6, 2.22,2.3, 2.27,-2.0, 2.07,5.5, 2.08,4.7, 1.94,3.9, 2.12,-1.1, 2.11,-3.1, 1.96,-2.9, 1.81,0.6, 1.76,-1.8, 1.81,-3.5, 1.59,-3.4, 1.7,-4.6, 0.95,-5.5, 0.8,-6.1, 0.59,-4.9, 0.7,-3.8];
const cCore = [
-0.28,5.2, -0.26,1.8, -0.24,9.4, -0.22,3.5, -0.2,-0.6, -0.18,6.4, -0.16,2.7, -0.14,10.6, -0.12,4.3, -0.1,0.9, -0.08,7.6, -0.06,3.1, -0.04,-1.5, -0.02,5.8, -0.27,7.2, -0.23,0.3, -0.19,4.6, -0.15,8.3, -0.11,-2.2, -0.07,2.0, -0.03,9.1, -0.25,3.9, -0.21,12.1, -0.17,0.0, -0.13,5.0, -0.09,1.4, -0.05,6.9, -0.01,2.4, -0.29,-0.8, -0.2,8.0, -0.12,-2.9, -0.06,11.2, -0.16,4.8, -0.08,3.8, -0.02,-3.0,
0.01,4.1, 0.03,1.0, 0.05,6.6, 0.07,-1.2, 0.09,2.9, 0.11,8.7, 0.13,0.2, 0.15,5.3, 0.17,2.0, 0.19,-2.0, 0.21,7.0, 0.23,3.3, 0.02,9.8, 0.04,-0.4, 0.06,2.3, 0.08,5.6, 0.1,1.5, 0.12,-3.2, 0.14,4.0, 0.16,7.9, 0.18,0.7, 0.2,3.8, 0.22,-0.9, 0.24,5.9, 0.01,-2.5, 0.05,3.5, 0.09,7.3, 0.13,2.6, 0.17,5.0, 0.21,0.0, 0.25,2.1, 0.03,6.0, 0.07,4.4, 0.11,-0.7, 0.15,10.1, 0.19,4.7, 0.23,1.1, 0.04,1.9, 0.08,-1.9, 0.12,3.0, 0.16,1.0, 0.2,6.2, 0.24,-2.4, 0.06,4.9, 0.1,11.3, 0.14,-1.5, 0.18,8.5, 0.22,2.8, 0.02,0.5, 0.12,6.8,
0.26,3.8, 0.28,0.6, 0.3,6.2, 0.32,-1.6, 0.34,2.5, 0.36,8.3, 0.38,-0.1, 0.4,4.8, 0.42,1.6, 0.44,-2.5, 0.46,6.6, 0.48,2.9, 0.27,9.3, 0.29,-0.8, 0.31,1.9, 0.33,5.1, 0.35,1.0, 0.37,-3.6, 0.39,3.5, 0.41,7.4, 0.43,0.3, 0.45,3.3, 0.47,-1.3, 0.49,5.4, 0.26,-2.9, 0.3,3.0, 0.34,6.9, 0.38,2.2, 0.42,4.5, 0.46,-0.4, 0.5,1.7, 0.28,5.5, 0.32,4.0, 0.36,-1.0, 0.4,9.6, 0.44,4.2, 0.48,0.7, 0.29,1.3, 0.33,-2.2, 0.37,2.8, 0.41,0.5, 0.45,5.8, 0.49,-2.8, 0.31,4.4, 0.35,10.2, 0.39,-1.8, 0.43,8.0, 0.47,2.3, 0.27,0.1, 0.37,6.2, 0.3,-4.5, 0.42,-3.9, 0.48,7.8, 0.34,1.4, 0.45,1.2,
0.51,3.4, 0.53,0.2, 0.55,5.7, 0.57,-2.0, 0.59,2.1, 0.61,7.8, 0.63,-0.5, 0.65,4.3, 0.67,1.1, 0.69,-3.0, 0.71,6.1, 0.73,2.4, 0.52,8.8, 0.54,-1.2, 0.56,1.4, 0.58,4.6, 0.6,0.5, 0.62,-4.0, 0.64,3.0, 0.66,6.9, 0.68,-0.2, 0.7,2.8, 0.72,-1.8, 0.74,4.9, 0.51,-3.3, 0.55,2.5, 0.59,6.4, 0.63,1.7, 0.67,4.0, 0.71,-0.9, 0.75,1.2, 0.53,5.0, 0.57,3.5, 0.61,-1.4, 0.65,9.2, 0.69,3.7, 0.73,0.2, 0.54,0.8, 0.58,-2.7, 0.62,2.3, 0.66,0.0, 0.7,5.3, 0.74,-3.4, 0.56,3.9, 0.6,9.9, 0.64,-2.4, 0.68,7.4, 0.72,1.8, 0.52,-0.5, 0.62,5.6, 0.56,-4.3, 0.7,-4.8, 0.74,7.2, 0.6,1.5, 0.66,2.0,
0.76,2.9, 0.78,-0.3, 0.8,5.0, 0.82,-2.4, 0.84,1.6, 0.86,7.1, 0.88,-1.0, 0.9,3.7, 0.92,0.6, 0.94,-3.4, 0.96,5.5, 0.98,1.9, 0.77,7.7, 0.79,-1.6, 0.81,0.9, 0.83,4.0, 0.85,0.0, 0.87,-4.2, 0.89,2.5, 0.91,6.2, 0.93,-0.6, 0.95,2.2, 0.97,-2.1, 0.99,4.2, 0.76,-3.6, 0.8,1.8, 0.84,5.6, 0.88,1.2, 0.92,3.3, 0.96,-1.3, 1.0,0.7, 0.78,4.4, 0.82,3.0, 0.86,-1.9, 0.9,8.2, 0.94,3.0, 0.98,-0.4, 0.79,0.4, 0.83,-2.9, 0.87,2.0, 0.91,-0.2, 0.95,4.7, 0.99,-3.1, 0.81,3.4, 0.85,9.0, 0.89,-2.6, 0.93,6.6, 0.97,1.3, 0.77,0.2, 0.87,4.9, 0.8,-5.0, 0.92,-4.6, 0.98,6.4, 0.84,-0.8, 0.95,0.9,
1.01,2.5, 1.03,-0.7, 1.05,4.6, 1.07,-2.8, 1.09,1.2, 1.11,6.5, 1.13,-1.4, 1.15,3.2, 1.17,0.2, 1.19,-3.8, 1.21,4.9, 1.23,1.4, 1.02,7.3, 1.04,-2.0, 1.06,0.5, 1.08,3.6, 1.1,-0.4, 1.12,-4.5, 1.14,2.0, 1.16,5.7, 1.18,-1.0, 1.2,1.8, 1.22,-2.5, 1.24,3.8, 1.01,-3.9, 1.05,1.5, 1.09,5.2, 1.13,0.8, 1.17,2.9, 1.21,-1.7, 1.25,0.2, 1.03,3.9, 1.07,2.6, 1.11,-2.2, 1.15,7.9, 1.19,2.5, 1.23,-0.9, 1.04,0.0, 1.08,-3.3, 1.12,1.6, 1.16,-0.5, 1.2,4.2, 1.24,-3.5, 1.1,8.7, 1.14,-5.4,
1.26,2.0, 1.28,-1.0, 1.3,4.0, 1.32,-3.0, 1.34,0.8, 1.36,5.8, 1.38,-1.8, 1.4,2.6, 1.42,-0.3, 1.44,-4.0, 1.46,4.4, 1.48,0.9, 1.27,6.6, 1.29,-2.3, 1.31,0.1, 1.33,3.0, 1.35,-0.8, 1.37,-4.8, 1.39,1.5, 1.41,5.0, 1.43,-1.5, 1.45,1.2, 1.47,-2.9, 1.49,3.3, 1.3,7.6, 1.34,-3.7, 1.38,3.6, 1.42,8.2, 1.46,-0.2, 1.28,2.9, 1.32,1.7, 1.36,-1.1, 1.4,-2.6, 1.44,2.2, 1.48,5.9,
1.51,1.5, 1.54,-1.4, 1.57,3.5, 1.6,-3.2, 1.63,0.4, 1.66,5.0, 1.69,-2.0, 1.72,2.0, 1.75,-0.7, 1.78,6.5, 1.81,3.8, 1.84,0.6, 1.87,-1.9, 1.9,2.3, 1.93,-0.8, 1.96,1.0, 1.99,-2.6, 1.52,4.6, 1.55,1.9, 1.58,-2.5, 1.61,7.0, 1.64,2.7, 1.67,-0.1, 1.7,4.1, 1.73,-3.8, 1.76,1.3, 1.79,-1.4, 1.82,7.3, 1.85,2.9, 1.88,-0.4, 1.91,-3.1, 1.94,4.6, 1.97,-1.1, 1.53,-3.0, 1.62,-0.9, 1.68,7.6, 1.74,4.7, 1.8,-2.8, 1.86,5.3, 1.92,0.4,
-0.88,4.5, -0.85,6.8, -0.8,1.5, -0.75,7.6, -0.7,3.2, -0.66,0.4, -0.62,5.5, -0.58,1.9, -0.55,8.5, -0.52,4.3, -0.5,-0.6, -0.48,2.1, -0.45,6.0, -0.42,9.3, -0.4,3.7, -0.38,0.8, -0.36,5.0, -0.34,2.3, -0.32,7.9, -0.31,-0.5, -0.6,1.1, -0.47,4.8, -0.44,-1.9, -0.35,11.0, -0.55,2.8,
2.02,0.9, 2.05,-2.3, 2.09,1.6, 2.13,-0.5, 2.16,2.8, 2.2,-1.3, 2.25,0.2, 2.3,-0.6, 2.05,3.3, 2.15,-3.4];
const cDense = [
0.05,-2.6, 0.3,-2.3, 0.55,-2.7, 0.78,-2.4, 1.02,-2.6, 1.25,-2.3, 1.5,-2.5, 1.72,-2.7, 0.42,-2.9, 0.9,-2.1,
-0.12,-1.6, 0.1,-1.3, 0.24,-1.7, 0.38,-1.4, 0.52,-1.8, 0.66,-1.3, 0.8,-1.6, 0.95,-1.2, 1.1,-1.7, 1.28,-1.4, 1.44,-1.6, 1.63,-1.3, 1.85,-1.6,
-0.2,-0.4, 0.0,-0.7, 0.15,-0.3, 0.29,-0.6, 0.44,-0.2, 0.58,-0.7, 0.71,-0.4, 0.86,-0.6, 1.0,-0.3, 1.15,-0.7, 1.32,-0.4, 1.5,-0.6, 1.7,-0.3, 1.95,-0.5,
-0.15,0.6, 0.07,0.3, 0.2,0.7, 0.33,0.4, 0.47,0.8, 0.61,0.3, 0.74,0.6, 0.89,0.4, 1.03,0.8, 1.18,0.3, 1.35,0.6, 1.55,0.4, 1.78,0.7, 2.0,0.3,
-0.25,1.4, -0.05,1.7, 0.11,1.3, 0.25,1.6, 0.39,1.2, 0.53,1.8, 0.67,1.4, 0.82,1.7, 0.96,1.3, 1.1,1.6, 1.26,1.2, 1.43,1.7, 1.62,1.4, 1.88,1.6,
-0.18,2.6, 0.02,2.3, 0.17,2.7, 0.31,2.4, 0.46,2.8, 0.6,2.3, 0.75,2.6, 0.9,2.2, 1.05,2.7, 1.21,2.4, 1.38,2.8, 1.58,2.4, 1.8,2.6,
-0.1,3.4, 0.08,3.7, 0.23,3.3, 0.37,3.6, 0.52,3.2, 0.68,3.7, 0.83,3.4, 0.98,3.6, 1.14,3.3, 1.3,3.7, 1.5,3.4, 1.7,3.2,
-0.22,4.6, 0.0,4.3, 0.14,4.7, 0.29,4.4, 0.44,4.8, 0.59,4.3, 0.73,4.6, 0.89,4.2, 1.05,4.7, 1.22,4.4, 1.42,4.6, 1.64,4.4,
-0.14,5.6, 0.06,5.3, 0.22,5.8, 0.38,5.4, 0.54,5.7, 0.7,5.3, 0.86,5.6, 1.02,5.4, 1.2,5.8, 1.4,5.3, 0.12,6.6, 0.45,6.9, 0.78,6.5, 1.08,6.8, 0.3,7.3, 0.64,7.6, 0.96,7.2,
0.2,-3.6, 0.48,-4.1, 0.75,-3.5, 1.0,-4.2, 1.3,-3.6, 1.6,-4.0, 0.62,-3.2, 1.15,-3.1];

const dOutliers = [-0.34,34.8, -0.05,33.0, -0.17,31.2, -0.32,28.3, -0.43,27.0, -0.21,26.1, -0.11,24.3, -0.4,23.5, -0.43,22.0, -0.52,21.2, 0.23,24.5, 0.92,23.8, 0.32,22.6, 0.34,21.0, -0.22,20.8, -0.19,19.6, -0.89,19.6, -0.65,18.9, -0.28,18.7, 0.54,19.3, 0.57,19.3, 0.7,19.9, 0.22,18.7, -0.6,17.3, -0.55,17.3, 0.08,18.2, 0.13,17.6, 0.32,18.2, 0.6,17.9, 0.64,17.6, 0.87,17.2, 1.23,17.4, 1.46,16.6, 1.33,16.4, 1.08,15.5, 1.1,15.0, 1.41,13.9, 1.92,14.5, 2.03,13.0, 2.26,10.4, 2.59,8.1, 2.6,6.7, 2.49,6.4, 2.61,6.0, 2.32,5.4, 2.35,6.8, 2.59,2.7, 2.35,0.4, 2.09,0.3, 2.0,2.7, 1.83,0.0, 1.63,0.4, 1.44,-3.8, 1.49,-1.7, 1.16,-4.4, 1.08,-3.7, 1.21,-3.2, 0.81,-2.1, 0.76,-1.7, 0.49,-2.1, 0.23,-1.2, 0.13,-1.1, 0.04,-0.9, 0.18,-7.9, -0.6,-2.1, -0.36,-1.1, -0.3,-1.1, -0.23,-0.6, -0.13,0.3, -0.75,0.3, -0.82,4.0, -0.78,6.0, -0.73,6.9, -0.9,8.4, -0.82,8.7, -0.64,10.4, -0.54,3.8, -0.5,3.0, -0.57,3.9, -0.31,3.0, -0.4,5.9, -0.54,5.4];
const dCore = [
-0.58,9.5, -0.55,12.6, -0.52,7.3, -0.5,10.8, -0.48,14.5, -0.46,6.0, -0.44,9.0, -0.42,12.0, -0.4,4.5, -0.38,8.2, -0.36,13.4, -0.34,6.7, -0.32,10.2, -0.3,3.6, -0.57,6.1, -0.53,15.6, -0.49,5.0, -0.45,11.7, -0.41,8.8, -0.37,16.2, -0.33,2.2, -0.47,1.5, -0.35,10.9, -0.43,13.3, -0.31,7.8,
-0.29,8.6, -0.27,12.3, -0.25,5.5, -0.23,10.1, -0.21,15.0, -0.19,3.4, -0.17,8.0, -0.15,11.4, -0.13,6.3, -0.11,13.6, -0.09,2.6, -0.07,9.4, -0.05,5.1, -0.03,12.8, -0.01,7.1, -0.28,4.0, -0.26,9.7, -0.24,14.1, -0.22,1.9, -0.2,7.2, -0.18,11.8, -0.16,4.8, -0.14,16.7, -0.12,9.0, -0.1,5.9, -0.08,12.0, -0.06,1.2, -0.04,8.3, -0.02,10.5, -0.27,6.7, -0.23,17.5, -0.19,9.9, -0.15,0.8, -0.11,7.6, -0.07,14.9, -0.03,3.7, -0.25,11.1, -0.17,5.2, -0.09,10.8, -0.01,4.4,
0.01,8.9, 0.03,5.4, 0.05,12.1, 0.07,2.5, 0.09,9.8, 0.11,6.8, 0.13,14.0, 0.15,4.2, 0.17,10.4, 0.19,7.6, 0.21,1.6, 0.23,11.9, 0.02,3.1, 0.04,7.4, 0.06,15.5, 0.08,5.8, 0.1,11.0, 0.12,2.0, 0.14,8.4, 0.16,13.1, 0.18,4.9, 0.2,9.2, 0.22,6.2, 0.24,15.0, 0.01,12.9, 0.05,6.0, 0.09,3.4, 0.13,10.7, 0.17,6.5, 0.21,8.6, 0.25,3.9, 0.03,10.0, 0.07,13.5, 0.11,0.9, 0.15,7.9, 0.19,12.4, 0.23,5.1, 0.04,1.4, 0.08,8.1, 0.12,11.6, 0.16,5.4, 0.2,14.3, 0.24,8.0, 0.06,4.3, 0.1,7.0, 0.14,2.9, 0.18,16.2, 0.22,10.0, 0.02,16.8, 0.12,5.0, 0.2,0.5, 0.06,9.6, 0.16,9.1, 0.24,2.3, 0.1,13.9,
0.26,8.2, 0.28,4.7, 0.3,11.5, 0.32,2.0, 0.34,9.1, 0.36,6.1, 0.38,13.3, 0.4,3.6, 0.42,9.7, 0.44,7.0, 0.46,1.2, 0.48,11.1, 0.27,2.6, 0.29,6.7, 0.31,14.6, 0.33,5.2, 0.35,10.2, 0.37,1.6, 0.39,7.7, 0.41,12.4, 0.43,4.3, 0.45,8.6, 0.47,5.6, 0.49,14.2, 0.26,12.2, 0.3,5.4, 0.34,2.9, 0.38,10.0, 0.42,5.8, 0.46,7.9, 0.5,3.3, 0.28,9.3, 0.32,12.8, 0.36,0.4, 0.4,7.2, 0.44,11.7, 0.48,4.4, 0.29,0.9, 0.33,7.4, 0.37,10.9, 0.41,4.8, 0.45,13.5, 0.49,7.3, 0.31,3.7, 0.35,6.4, 0.39,2.3, 0.43,15.4, 0.47,9.4, 0.27,15.8, 0.37,4.5, 0.45,-0.2, 0.31,8.9, 0.41,8.5, 0.49,1.8, 0.35,13.0, 0.43,1.0, 0.39,12.1, 0.47,12.6, 0.33,10.6, 0.28,1.1,
0.51,7.6, 0.53,4.1, 0.55,10.9, 0.57,1.5, 0.59,8.5, 0.61,5.6, 0.63,12.6, 0.65,3.0, 0.67,9.1, 0.69,6.4, 0.71,0.8, 0.73,10.5, 0.52,2.0, 0.54,6.2, 0.56,14.0, 0.58,4.7, 0.6,9.6, 0.62,1.0, 0.64,7.1, 0.66,11.8, 0.68,3.7, 0.7,8.0, 0.72,5.0, 0.74,13.6, 0.51,11.6, 0.55,4.8, 0.59,2.3, 0.63,9.4, 0.67,5.2, 0.71,7.3, 0.75,2.7, 0.53,8.7, 0.57,12.2, 0.61,-0.3, 0.65,6.6, 0.69,11.0, 0.73,3.8, 0.54,0.3, 0.58,6.8, 0.62,10.3, 0.66,4.2, 0.7,12.9, 0.74,6.7, 0.56,3.1, 0.6,5.7, 0.64,1.7, 0.68,14.8, 0.72,8.8, 0.52,15.2, 0.62,3.9, 0.7,-0.8, 0.56,8.3, 0.66,8.0, 0.74,1.2, 0.6,12.5, 0.68,0.6, 0.64,11.3, 0.72,11.9, 0.58,9.9, 0.53,0.8,
0.76,7.0, 0.78,3.5, 0.8,10.3, 0.82,0.9, 0.84,7.9, 0.86,5.0, 0.88,12.0, 0.9,2.4, 0.92,8.5, 0.94,5.8, 0.96,0.2, 0.98,9.9, 0.77,1.4, 0.79,5.6, 0.81,13.4, 0.83,4.0, 0.85,9.0, 0.87,0.5, 0.89,6.5, 0.91,11.2, 0.93,3.1, 0.95,7.4, 0.97,4.4, 0.99,13.0, 0.76,11.0, 0.8,4.2, 0.84,1.7, 0.88,8.8, 0.92,4.6, 0.96,6.7, 1.0,2.1, 0.78,8.1, 0.82,11.6, 0.86,-0.9, 0.9,6.0, 0.94,10.5, 0.98,3.2, 0.79,-0.4, 0.83,6.2, 0.87,9.7, 0.91,3.6, 0.95,12.3, 0.99,6.1, 0.81,2.5, 0.85,5.3, 0.89,1.1, 0.93,14.2, 0.97,8.2, 0.77,14.6, 0.87,3.3, 0.95,-1.4, 0.81,7.7, 0.91,7.4, 0.99,0.6, 0.85,11.8,
1.01,6.5, 1.03,3.0, 1.05,9.7, 1.07,0.4, 1.09,7.3, 1.11,4.4, 1.13,11.4, 1.15,1.9, 1.17,7.9, 1.19,5.3, 1.21,-0.3, 1.23,9.3, 1.02,0.9, 1.04,5.0, 1.06,12.8, 1.08,3.5, 1.1,8.4, 1.12,0.0, 1.14,5.9, 1.16,10.6, 1.18,2.6, 1.2,6.8, 1.22,3.9, 1.24,12.4, 1.01,10.4, 1.05,3.7, 1.09,1.2, 1.13,8.2, 1.17,4.1, 1.21,6.1, 1.25,1.6, 1.03,7.5, 1.07,11.0, 1.11,-1.5, 1.15,5.4, 1.19,9.8, 1.23,2.7, 1.04,-1.0, 1.08,5.7, 1.12,9.1, 1.16,3.1, 1.2,11.7, 1.24,5.5, 1.06,2.1, 1.1,4.7, 1.14,0.5, 1.18,13.1, 1.22,7.6, 1.02,13.7, 1.14,-2.1,
1.26,5.9, 1.28,2.5, 1.3,9.0, 1.32,-0.6, 1.34,6.8, 1.36,3.8, 1.38,10.8, 1.4,1.3, 1.42,7.4, 1.44,4.7, 1.46,-1.0, 1.48,8.7, 1.27,0.3, 1.29,4.5, 1.31,12.1, 1.33,3.0, 1.35,7.9, 1.37,-0.2, 1.39,5.3, 1.41,10.0, 1.43,2.1, 1.45,6.3, 1.47,3.4, 1.49,11.8, 1.26,9.8, 1.3,3.3, 1.34,0.7, 1.38,7.6, 1.42,3.6, 1.46,5.6, 1.5,1.0, 1.28,6.9, 1.32,10.4, 1.36,-1.7, 1.4,4.9, 1.44,9.2, 1.48,2.4, 1.3,13.0, 1.4,12.4, 1.35,1.8,
1.52,5.1, 1.55,1.9, 1.58,8.5, 1.61,-0.8, 1.64,6.2, 1.67,3.2, 1.7,10.3, 1.73,0.9, 1.76,6.9, 1.79,4.0, 1.82,-0.4, 1.85,8.3, 1.88,2.6, 1.91,5.8, 1.94,3.5, 1.97,9.1, 2.0,1.4, 2.03,5.4, 2.06,7.4, 2.09,2.9, 1.53,9.6, 1.56,3.7, 1.59,0.2, 1.62,7.4, 1.65,3.9, 1.68,5.8, 1.71,1.6, 1.74,8.6, 1.77,11.2, 1.8,2.2, 1.83,5.0, 1.86,-1.1, 1.89,7.2, 1.92,1.0, 1.95,6.4, 1.98,4.2, 2.01,8.6, 2.04,0.6, 2.07,4.6, 1.6,11.6, 1.7,-1.5, 1.8,9.4, 1.9,11.0, 1.66,0.9, 1.84,3.2,
-0.88,5.8, -0.85,10.5, -0.8,7.8, -0.77,12.0, -0.74,9.3, -0.71,3.5, -0.68,11.0, -0.65,6.5, -0.62,13.8, -0.7,8.3, -0.66,2.0, -0.86,2.4,
2.12,6.3, 2.15,3.6, 2.18,9.0, 2.22,4.8, 2.27,2.2, 2.3,7.1, 2.38,3.9, 2.45,5.5, 2.52,2.8, 2.2,0.9];
const dDense = [
0.1,2.1, 0.4,1.8, 0.7,2.2, 0.95,1.9, 1.2,2.3, 1.45,1.8, 1.7,2.1, 0.55,2.4, 1.05,2.6,
-0.1,3.1, 0.15,2.8, 0.33,3.2, 0.5,2.9, 0.68,3.3, 0.86,2.8, 1.02,3.2, 1.18,2.9, 1.36,3.3, 1.55,3.0, 1.8,2.9,
-0.2,4.1, 0.04,3.8, 0.22,4.2, 0.4,3.9, 0.57,4.3, 0.74,3.8, 0.9,4.2, 1.07,3.9, 1.24,4.3, 1.42,3.9, 1.63,4.2, 1.92,4.0,
-0.25,5.1, -0.02,4.8, 0.17,5.2, 0.35,4.9, 0.52,5.3, 0.69,4.8, 0.85,5.2, 1.01,4.9, 1.17,5.3, 1.34,4.8, 1.52,5.1, 1.75,4.9,
-0.15,6.1, 0.08,5.8, 0.26,6.2, 0.44,5.9, 0.61,6.3, 0.78,5.8, 0.94,6.2, 1.11,5.9, 1.28,6.3, 1.47,5.9, 1.68,6.2, 1.95,6.0,
-0.22,7.1, 0.0,6.8, 0.19,7.2, 0.37,6.9, 0.55,7.3, 0.72,6.8, 0.88,7.2, 1.05,6.9, 1.22,7.3, 1.4,6.8, 1.6,7.1,
-0.12,8.1, 0.1,7.8, 0.29,8.2, 0.47,7.9, 0.64,8.3, 0.81,7.8, 0.97,8.2, 1.15,7.9, 1.33,8.3, 1.53,7.9,
-0.27,9.1, -0.04,8.8, 0.16,9.2, 0.36,8.9, 0.53,9.3, 0.7,8.8, 0.87,9.2, 1.06,8.9, 1.26,9.3, 1.46,8.9,
-0.18,10.1, 0.06,9.8, 0.25,10.2, 0.43,9.9, 0.6,10.3, 0.78,9.8, 0.96,10.2, 1.18,9.9, 1.38,10.2,
-0.08,11.1, 0.14,10.8, 0.33,11.2, 0.51,10.9, 0.68,11.3, 0.86,10.8, 1.08,11.2, 1.3,10.9,
0.0,12.2, 0.22,12.6, 0.44,12.1, 0.63,12.7, 0.83,12.3, 1.03,12.8, -0.2,12.9, 0.35,13.6, 0.75,13.8];

// Regression lines (start, end)
const aTrend = [[-0.9, 5.0], [3, 1.2]];
const bTrend = [[-0.9, 10.0], [3, 5.8]];
const cTrend = [[-0.89, 8.3], [3, -2.6]];
const dTrend = [[-0.89, 11.3], [3, 1.8]];

const headers = ["NSUPI_B intensity", "NSUPI_T intensity"];
const panelLetters = ["a", "b", "c", "d"];
const rValues = ["r= -0.17", "r= -0.15", "r= -0.31", "r= -0.30"];
const pValues = ["p<0.01", "p<0.01", "p<0.01", "p<0.01"];
const nValues = ["n=2821", "n=2833", "n=937", "n=940"];
const rowTitles = ["Daytime", "Nighttime"];
const xTitle = "AUHI intensity (K)";

function pairs(flat: number[]): number[][] {
  const out: number[][] = [];
  for (let i = 0; i + 1 < flat.length; i += 2) out.push([flat[i], flat[i + 1]]);
  return out;
}

const PANELS = [
  { left: 131, top: 50 },
  { left: 543, top: 50 },
  { left: 131, top: 369 },
  { left: 543, top: 369 },
];
const PW = 374;
const PH = 276;

export default function App() {
  const ref = useRef<HTMLDivElement>(null);
  useEffect(() => {
    if (!ref.current) return;
    const chart = echarts.init(ref.current, undefined, { renderer: "svg" });
    const scatterData = [
      pairs([...aOutliers, ...aCore, ...aDense, ...aDense2]),
      pairs([...bOutliers, ...bCore, ...bDense, ...bDense2]),
      pairs([...cOutliers, ...cCore, ...cDense]),
      pairs([...dOutliers, ...dCore, ...dDense]),
    ];
    const trends = [aTrend, bTrend, cTrend, dTrend];

    const graphic: any[] = [];
    headers.forEach((h, i) => {
      const p = PANELS[i];
      graphic.push({
        type: "rect",
        shape: { x: p.left, y: 11, width: PW, height: 39 },
        style: { fill: "#c3c3c3", stroke: "#000", lineWidth: 1.5 },
        z: 10,
      });
      graphic.push({
        type: "text",
        x: i === 0 ? p.left + 200 : p.left + 187,
        y: 31,
        style: {
          text: h, fill: "#000", font: `27px ${FONT}`,
          align: "center", verticalAlign: "middle", textAlign: "center", textVerticalAlign: "middle",
        },
        z: 11,
      });
    });
    PANELS.forEach((p, i) => {
      graphic.push({
        type: "text", x: p.left + 12, y: p.top + 18,
        style: { text: panelLetters[i], fill: "#000", font: `bold 25px ${FONT}`, align: "left", verticalAlign: "middle", textAlign: "left", textVerticalAlign: "middle" },
        z: 11,
      });
      [rValues[i], pValues[i], nValues[i]].forEach((t, k) => {
        graphic.push({
          type: "text", x: p.left + 282, y: p.top + 18 + k * 34.5,
          style: { text: t, fill: "#000", font: `27px ${FONT}`, align: "left", verticalAlign: "middle", textAlign: "left", textVerticalAlign: "middle" },
          z: 11,
        });
      });
    });
    [182, 507].forEach((cy, r) => {
      graphic.push({
        type: "text", x: 25, y: cy, rotation: Math.PI / 2,
        style: { text: rowTitles[r], fill: "#000", font: `27px ${FONT}`, align: "center", verticalAlign: "middle", textAlign: "center", textVerticalAlign: "middle" },
        z: 11,
      });
      graphic.push({
        type: "text", x: 62, y: cy, rotation: Math.PI / 2,
        style: {
          text: "{m|NSUPI intensity (ug/m}{s|-3}{m|)}",
          fill: "#000",
          align: "center", verticalAlign: "middle", textAlign: "center", textVerticalAlign: "middle",
          rich: {
            m: { fontSize: 27, fontFamily: FONT, fill: "#000", color: "#000" },
            s: { fontSize: 16, fontFamily: FONT, fill: "#000", color: "#000", padding: [0, 0, 14, 0] },
          },
        },
        z: 11,
      });
    });
    [PANELS[2], PANELS[3]].forEach((p) => {
      graphic.push({
        type: "text", x: p.left + PW / 2, y: 696,
        style: { text: xTitle, fill: "#000", font: `27px ${FONT}`, align: "center", verticalAlign: "middle", textAlign: "center", textVerticalAlign: "middle" },
        z: 11,
      });
    });

    const option: any = {
      animation: false,
      backgroundColor: "#fff",
      textStyle: { fontFamily: FONT },
      grid: PANELS.map((p) => ({
        left: p.left, top: p.top, width: PW, height: PH,
        show: true, borderColor: "#000", borderWidth: 1.5, backgroundColor: "transparent",
      })),
      xAxis: PANELS.map((_, i) => ({
        gridIndex: i, type: "value", min: -1, max: 3, interval: 0.5,
        axisLine: { show: false, onZero: false },
        axisTick: { show: true, inside: true, length: 6, lineStyle: { color: "#000", width: 1.5 } },
        splitLine: { show: false },
        axisLabel: {
          show: i >= 2, color: "#000", fontSize: 25, fontFamily: FONT, margin: 9,
          formatter: (v: number) => (Math.abs(v - Math.round(v)) < 1e-9 ? String(Math.round(v)) : ""),
        },
      })),
      yAxis: PANELS.map((_, i) => ({
        gridIndex: i, type: "value", min: -10, max: 40, interval: 5,
        axisLine: { show: false, onZero: false },
        axisTick: { show: true, inside: true, length: 6, lineStyle: { color: "#000", width: 1.5 } },
        splitLine: { show: false },
        axisLabel: {
          show: i % 2 === 0, color: "#000", fontSize: 25, fontFamily: FONT, margin: 11,
          formatter: (v: number) => (Math.round(v) % 10 === 0 ? String(Math.round(v)) : ""),
        },
      })),
      series: [
        ...scatterData.map((d, i) => ({
          type: "scatter", xAxisIndex: i, yAxisIndex: i, data: d,
          symbol: "circle", symbolSize: 5, itemStyle: { color: "#000", opacity: 1 },
          silent: true, z: 2,
        })),
        ...trends.map((t, i) => ({
          type: "line", xAxisIndex: i, yAxisIndex: i, data: t,
          symbol: "none", lineStyle: { color: "#ff0000", width: 1.6 },
          silent: true, z: 3,
        })),
      ],
      graphic,
    };
    chart.setOption(option);
    return () => chart.dispose();
  }, []);

  return (
    <div
      ref={ref}
      style={{ position: "fixed", left: 0, top: 0, width: 922, height: 710, background: "#fff" }}
    />
  );
}
